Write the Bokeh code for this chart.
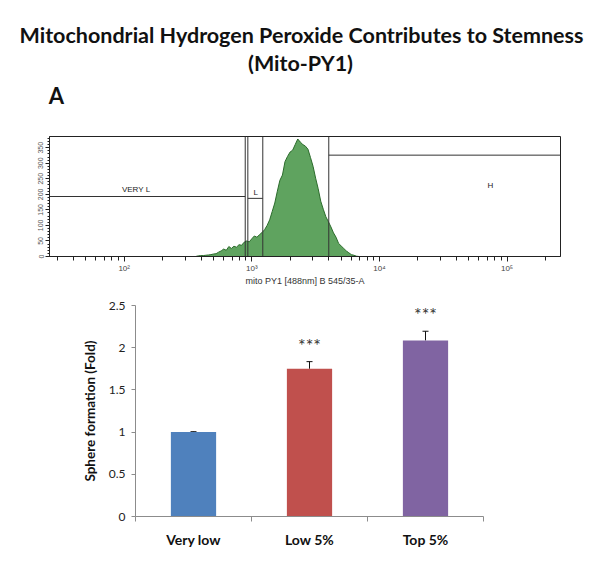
from bokeh.plotting import figure
from bokeh.models import (Range1d, FixedTicker, SingleIntervalTicker, Label,
                          Whisker, TeeHead, ColumnDataSource)
from bokeh.layouts import column, row
from bokeh.embed import file_html
from bokeh.resources import INLINE
from bokeh.core.properties import value

# ---------------- data ----------------
heading_line1 = "Mitochondrial Hydrogen Peroxide Contributes to Stemness"
heading_line2 = "(Mito-PY1)"
panel_a = "A"
panel_b = "B"

# Panel A: flow cytometry histogram (log10 fluorescence, cell count)
hist_log10 = [2.56, 2.58, 2.60, 2.62, 2.64, 2.66, 2.68, 2.70, 2.72, 2.74,
              2.76, 2.78, 2.80, 2.82, 2.84, 2.86, 2.88, 2.90, 2.92, 2.94,
              2.96, 2.98, 3.00, 3.02, 3.04, 3.06, 3.08, 3.10, 3.12, 3.14,
              3.16, 3.18, 3.20, 3.22, 3.24, 3.26, 3.28, 3.30, 3.32, 3.34,
              3.36, 3.38, 3.40, 3.42, 3.44, 3.46, 3.48, 3.50, 3.52, 3.54,
              3.56, 3.58, 3.60, 3.62, 3.64, 3.66, 3.68, 3.70, 3.72, 3.74,
              3.76, 3.78, 3.80, 3.82, 3.84]
hist_counts = [0, 2, 3, 3, 4, 5, 6, 8, 9, 14,
               18, 24, 20, 32, 26, 33, 30, 38, 36, 46,
               50, 47, 57, 66, 62, 70, 77, 86, 100, 118,
               145, 172, 210, 245, 262, 305, 322, 336, 342, 360,
               378, 368, 360, 355, 345, 318, 290, 252, 218, 178,
               152, 128, 112, 95, 76, 62, 42, 34, 26, 18,
               12, 6, 4, 1, 0]
hist_title = "151204-mcf7"
hist_xlabel = "mito PY1 [488nm] B 545/35-A"
hist_xmin, hist_xmax = 26, 262144
hist_ymax = 386
decade_ticks = [100, 1000, 10000, 100000]
decade_labels = ["10\u00b2", "10\u00b3", "10\u2074", "10\u2075"]

gate_names = ["VERY L", "L", "H"]
gate_lo = [26, 931, 4009]
gate_hi = [888, 1219, 262144]
gate_level = [193, 187, 326]
gate_label_x = [124, 1075, 74000]
gate_label_y = [217, 206, 228]

# Panel B: sphere formation bar chart
categories = ["Very low", "Low 5%", "Top 5%"]
fold = [1.0, 1.75, 2.085]
fold_err = [0.005, 0.085, 0.11]
significance = ["", "***", "***"]
bar_colors = ["#4f81bd", "#c0504d", "#8064a2"]
y_label_b = "Sphere formation (Fold)"
y_ticks_b = [0, 0.5, 1, 1.5, 2, 2.5]
y_tick_labels_b = ["0", "0.5", "1", "1.5", "2", "2.5"]

W = 600
HEAD_FONT = "Lato"
FACS_FONT = "Liberation Sans"

# ---------------- heading ----------------
head = figure(width=W, height=108, x_range=Range1d(0, W), y_range=Range1d(108, 0),
              output_backend="svg", toolbar_location=None, min_border=0,
              x_axis_location=None, y_axis_location=None)
head.grid.visible = False
head.outline_line_color = None
head.add_layout(Label(x=301, y=34, text=heading_line1, text_align="center",
                      text_baseline="middle", text_font=HEAD_FONT,
                      text_font_style="bold", text_font_size="21.5px", text_color="#111111"))
head.add_layout(Label(x=300, y=62, text=heading_line2, text_align="center",
                      text_baseline="middle", text_font=HEAD_FONT,
                      text_font_style="bold", text_font_size="21.5px", text_color="#111111"))
head.add_layout(Label(x=56, y=95, text=panel_a, text_align="center",
                      text_baseline="middle", text_font=HEAD_FONT,
                      text_font_style="bold", text_font_size="22px", text_color="#111111"))

# ---------------- panel A ----------------
hist = figure(width=W, height=180, x_axis_type="log",
              x_range=Range1d(hist_xmin, hist_xmax), y_range=Range1d(0, hist_ymax),
              output_backend="svg", toolbar_location=None,
              min_border_left=49, min_border_right=40, min_border_top=28, min_border_bottom=32)
hist.grid.visible = False
hist.outline_line_color = "#222222"
hist_x = [10 ** v for v in hist_log10]
hist.varea(x=hist_x, y1=0, y2=hist_counts, fill_color="#5fa35f")
hist.line(x=hist_x, y=hist_counts, line_color="#2b6b2b", line_width=1)

# gates
hist.segment(x0=gate_lo, y0=gate_level, x1=gate_hi, y1=gate_level,
             line_color="#333333", line_width=1)
edges = [e for e in gate_lo + gate_hi if hist_xmin < e < hist_xmax]
hist.segment(x0=edges, y0=[0] * len(edges), x1=edges, y1=[hist_ymax] * len(edges),
             line_color="#333333", line_width=1)
hist.text(x=gate_label_x, y=gate_label_y, text=gate_names, text_align="center",
          text_baseline="middle", text_font=value(FACS_FONT), text_font_size="8px",
          text_color="#222222")
hist.add_layout(Label(x=2150, y=hist_ymax, text=hist_title, text_align="center",
                      text_baseline="bottom", text_font=FACS_FONT, text_font_size="9px",
                      text_color="#333333"))

minor = [m * 10 ** d for d in range(1, 6) for m in range(2, 10)
         if hist_xmin <= m * 10 ** d <= hist_xmax]
xa = hist.xaxis[0]
xa.ticker = FixedTicker(ticks=decade_ticks, minor_ticks=minor)
xa.major_label_overrides = dict(zip(decade_ticks, decade_labels))
xa.major_tick_out = 5
xa.major_tick_in = 0
xa.minor_tick_out = 4
xa.minor_tick_in = 0
xa.major_label_standoff = 2
xa.major_label_text_font = FACS_FONT
xa.major_label_text_font_size = "8px"
xa.major_label_text_color = "#444444"
xa.axis_label = hist_xlabel
xa.axis_label_standoff = 0
xa.axis_label_text_font = FACS_FONT
xa.axis_label_text_font_size = "9px"
xa.axis_label_text_font_style = "normal"
xa.axis_label_text_color = "#333333"
xa.axis_line_color = "#222222"
xa.major_tick_line_color = "#222222"
xa.minor_tick_line_color = "#222222"

ya = hist.yaxis[0]
ya.ticker = SingleIntervalTicker(interval=50, num_minor_ticks=5)
ya.major_label_orientation = "vertical"
ya.major_tick_out = 4
ya.major_tick_in = 0
ya.minor_tick_out = 2
ya.minor_tick_in = 0
ya.major_label_standoff = 2
ya.major_label_text_font = FACS_FONT
ya.major_label_text_font_size = "7px"
ya.major_label_text_color = "#555555"
ya.axis_line_color = "#222222"
ya.major_tick_line_color = "#222222"
ya.minor_tick_line_color = "#222222"

# ---------------- panel B ----------------
bar_x = [i + 0.5 for i in range(len(categories))]
upper = [f + e for f, e in zip(fold, fold_err)]
star_y = [u + 0.2 for u in upper]
src = ColumnDataSource(dict(x=bar_x, top=fold, upper=upper, star_y=star_y,
                            star=significance, color=bar_colors))

bar = figure(width=W, height=280, x_range=Range1d(0, len(categories)), y_range=Range1d(0, 2.5),
             output_backend="svg", toolbar_location=None,
             min_border_left=135, min_border_right=117, min_border_top=17, min_border_bottom=52)
bar.grid.visible = False
bar.outline_line_color = None
bar.vbar(x="x", top="top", width=0.39, fill_color="color", line_color=None, source=src)
bar.add_layout(Whisker(source=src, base="x", lower="top", upper="upper",
                       line_color="#111111", line_width=1,
                       upper_head=TeeHead(size=6, line_color="#111111", line_width=1),
                       lower_head=None))
bar.text(x="x", y="star_y", text="star", source=src, text_align="center",
         text_baseline="middle", text_font=value(HEAD_FONT), text_font_size="18px",
         text_color="#333333")
bar.add_layout(Label(x=-0.70, y=2.56, text=panel_b, text_align="center",
                     text_baseline="middle", text_font=HEAD_FONT,
                     text_font_style="bold", text_font_size="22px", text_color="#111111"))

bx = bar.xaxis[0]
bx.ticker = FixedTicker(ticks=bar_x, minor_ticks=list(range(len(categories) + 1)))
bx.major_label_overrides = dict(zip(bar_x, categories))
bx.major_tick_out = 0
bx.major_tick_in = 0
bx.minor_tick_out = 5
bx.minor_tick_in = 0
bx.major_label_standoff = 9
bx.major_label_text_font = HEAD_FONT
bx.major_label_text_font_style = "bold"
bx.major_label_text_font_size = "14px"
bx.major_label_text_color = "#111111"
bx.axis_line_color = "#8c8c8c"
bx.minor_tick_line_color = "#8c8c8c"

by = bar.yaxis[0]
by.ticker = FixedTicker(ticks=y_ticks_b)
by.major_label_overrides = dict(zip(y_ticks_b, y_tick_labels_b))
by.minor_tick_line_color = None
by.major_tick_out = 4
by.major_tick_in = 0
by.major_label_standoff = 6
by.major_label_text_font = HEAD_FONT
by.major_label_text_font_size = "12px"
by.major_label_text_color = "#222222"
by.axis_line_color = "#8c8c8c"
by.major_tick_line_color = "#8c8c8c"
by.axis_label = y_label_b
by.axis_label_standoff = 8
by.axis_label_text_font = HEAD_FONT
by.axis_label_text_font_style = "bold"
by.axis_label_text_font_size = "13.5px"
by.axis_label_text_color = "#111111"

layout = column(row(head), row(hist), row(bar), spacing=0)
open("out.html", "w").write(file_html(layout, INLINE))
